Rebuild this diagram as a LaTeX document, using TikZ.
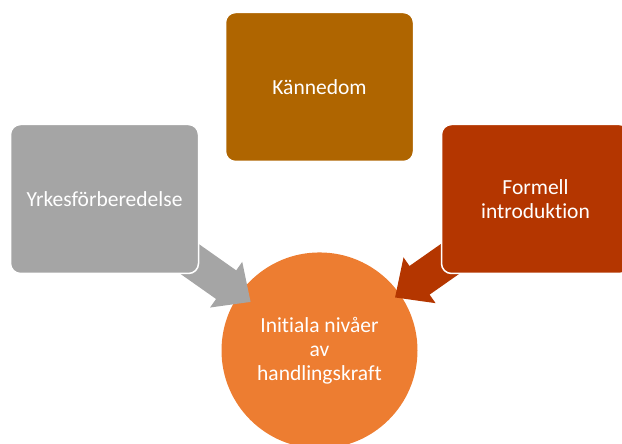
\documentclass[tikz,border=0pt]{standalone}
\usepackage{fontspec}
\setmainfont{Carlito}[Ligatures = NoCommon]
\usepackage{tikz}
\usetikzlibrary{positioning, arrows.meta}
\definecolor{yrkegray}{RGB}{165,165,165}
\definecolor{kannbrown}{RGB}{175,101,0}
\definecolor{formred}{RGB}{180,54,0}
\definecolor{initorange}{RGB}{237,125,49}
\pgfdeclarelayer{back}
\pgfsetlayers{back,main}
\tikzset{
    topic/.style = {rectangle, rounded corners = 10pt, draw = white, line width = 1.5pt, minimum width = 188pt, minimum height = 149pt, text = white, align = center, font = \fontsize{21.5}{24}\selectfont},
    goal/.style = {circle, fill = initorange, minimum size = 196pt, text = white, align = center, font = \fontsize{21.5}{24}\selectfont},
    push/.style = {line width = 35pt, -{Triangle[width = 54pt, length = 30pt]}}
}

\begin{document}
\begin{tikzpicture}[x = 1pt, y = 1pt]
    \useasboundingbox (0,0) rectangle (622,444);
    \node [topic, fill = kannbrown] (kann) at (319.5,357) {Kännedom};
    \node [topic, fill = yrkegray] (yrke) at (104.5,245) {Yrkesförberedelse};
    \node [topic, fill = formred] (form) at (535.5,245) {Formell\\introduktion};
    \begin{pgfonlayer}{back}
        \node [goal, below = 90pt of kann] (init) {Initiala nivåer\\av\\handlingskraft};
        \draw [push, yrkegray, shorten >= -14pt] (yrke.center) -- (init);
        \draw [push, formred, shorten >= -6pt] (form.center) -- (init);
    \end{pgfonlayer}
\end{tikzpicture}
\end{document}
